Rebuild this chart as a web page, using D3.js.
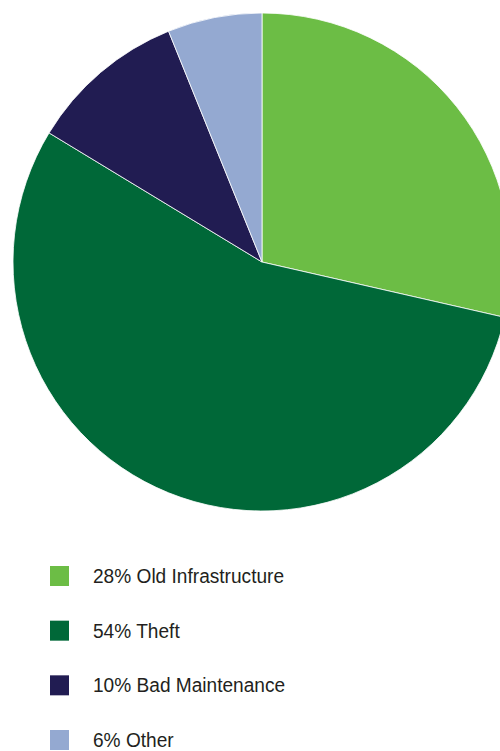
<!DOCTYPE html>
<html lang="en">
<head>
  <meta charset="utf-8">
  <title>Causes of losses</title>
  <style>
    body { margin:0; background:#fff; overflow:hidden; }
    svg  { display:block; }
    text { font-family:"Liberation Sans", Arial, sans-serif; font-size:21px; fill:#231f20; }
  </style>
</head>
<body>
<script src="https://d3js.org/d3.v7.min.js"></script>
<script>

// data
const categories = ["Old Infrastructure", "Theft", "Bad Maintenance", "Other"];
const shares     = [28, 54, 10, 6];
const colors     = ["#6cbd45", "#006838", "#211c52", "#94a9d1"];

const data = categories.map((c, i) => ({ label: c, value: shares[i], color: colors[i] }));

const width = 500, height = 751;
const cx = 262, cy = 262, radius = 249;

const svg = d3.select("body").append("svg")
  .attr("width", width)
  .attr("height", height);

// -- pie --
const pie = d3.pie()
  .sort(null)
  .value(d => d.value);

const arc = d3.arc()
  .innerRadius(0)
  .outerRadius(radius);

svg.append("g")
  .attr("transform", `translate(${cx},${cy})`)
  .selectAll("path")
  .data(pie(data))
  .join("path")
    .attr("d", arc)
    .attr("fill", d => d.data.color)
    .attr("stroke", "#fff")
    .attr("stroke-width", 0.8);

// -- legend --
const rowY = d3.scalePoint()
  .domain(categories)
  .range([576, 740]);

const legend = svg.append("g");

legend.selectAll("rect")
  .data(data)
  .join("rect")
    .attr("x", 50)
    .attr("y", d => rowY(d.label) - 10)
    .attr("width", 19)
    .attr("height", 20)
    .attr("fill", d => d.color);

// condensed look: squeeze the regular face horizontally
legend.selectAll("text")
  .data(data)
  .join("text")
    .attr("transform", d => `translate(93,${rowY(d.label) + 7}) scale(0.91,1)`)
    .text(d => `${d.value}% ${d.label}`);

</script>
</body>
</html>
